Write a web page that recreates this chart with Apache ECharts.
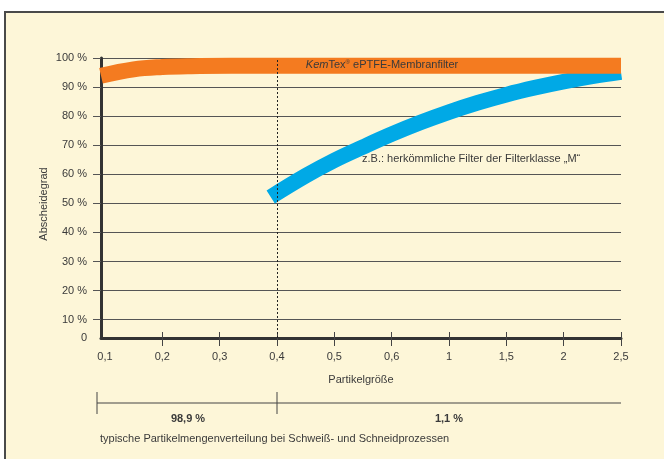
<!DOCTYPE html>
<html>
<head>
<meta charset="utf-8">
<script src="https://cdn.jsdelivr.net/npm/echarts@6/dist/echarts.min.js"></script>
<style>
  body { margin: 0; background: #fff; overflow: hidden; }
  #frame { position: absolute; left: 4px; top: 11px; width: 700px; height: 500px; background: #FDF6D8; border: 2px solid #4a4a4a; }
  #main { position: absolute; left: 0; top: 0; width: 664px; height: 459px; }
</style>
</head>
<body>
<div id="frame"></div>
<div id="main"></div>
<script type="text/javascript">
    // Achse: Partikelgrößen stehen in gleichen Abständen (Position 0..9)
    var xLabels = ['0,1', '0,2', '0,3', '0,4', '0,5', '0,6', '1', '1,5', '2', '2,5'];
    var yTicks = [10, 20, 30, 40, 50, 60, 70, 80, 90, 100];
    var yMin = 3.7;   // unterste Linie liegt etwas enger als die übrigen
    var xMin = -0.07;

    // KemTex-Band (Mittellinie)
    var kemX = [-0.07, 0.5, 1, 1.5, 2.2, 9];
    var kemY = [93.9, 96.1, 96.9, 97.2, 97.3, 97.3];

    // herkömmlicher Filter Klasse M (Mittellinie, läuft rechts unter das KemTex-Band)
    var filterX = [2.89, 3.5, 4, 4.5, 5, 5.5, 6, 6.5, 7, 7.5, 8, 8.5, 9];
    var filterY = [52.2, 59.5, 64.8, 69.4, 73.8, 77.8, 81.4, 84.6, 87.4, 89.8, 91.9, 93.7, 95.2];

    var splitAt = 3; // 0,4
    var shares = ['98,9 %', '1,1 %'];

    var font = "'Liberation Sans', Arial, sans-serif";
    var txt = '#3a3a3a';

    var myChart = echarts.init(document.getElementById('main'));

    function pairs(xs, ys) {
        return xs.map(function (x, i) { return [x, ys[i]]; });
    }
    var tickPos = [];
    var labelPos = [];
    for (var i = 0; i < xLabels.length; i++) {
        labelPos.push(i);
        if (i > 0) tickPos.push(i);
    }

    var option = {
        animation: false,
        backgroundColor: 'transparent',
        grid: { left: 101, top: 58, width: 520, height: 280 },
        xAxis: [{
            type: 'value',
            min: xMin,
            max: xLabels.length - 1,
            position: 'bottom',
            axisLine: { onZero: false, lineStyle: { color: '#333', width: 3 } },
            axisTick: { customValues: tickPos, length: 8, lineStyle: { color: '#444', width: 1 } },
            axisLabel: {
                customValues: labelPos,
                formatter: function (v) { return xLabels[Math.round(v)]; },
                margin: 13, color: txt, fontSize: 11, fontFamily: font
            },
            splitLine: { show: false },
            name: 'Partikelgröße',
            nameLocation: 'middle',
            nameGap: 36,
            nameTextStyle: { color: txt, fontSize: 11, fontFamily: font }
        }, {
            type: 'value',
            min: xMin,
            max: xLabels.length - 1,
            position: 'top',
            offset: -280,
            axisLine: { show: false },
            axisTick: { customValues: tickPos, length: 6, lineStyle: { color: '#444', width: 1 } },
            axisLabel: { show: false },
            splitLine: { show: false }
        }],
        yAxis: {
            type: 'value',
            min: yMin,
            max: 100,
            axisLine: { show: true, onZero: false, lineStyle: { color: '#333', width: 3 } },
            axisTick: { show: true, customValues: yTicks, length: 8, lineStyle: { color: '#555', width: 1 } },
            axisLabel: {
                customValues: [yMin].concat(yTicks),
                formatter: function (v) { return v < 10 ? '0' : v + ' %'; },
                margin: 14, color: txt, fontSize: 11, fontFamily: font
            },
            splitLine: { show: true, lineStyle: { color: '#555', width: 1 } }
        },
        series: [{
            name: 'Filterklasse M',
            type: 'line',
            data: pairs(filterX, filterY),
            smooth: 0.4,
            symbol: 'none',
            z: 2,
            lineStyle: { color: '#00A9E6', width: 15.5, cap: 'butt' }
        }, {
            name: 'KemTex',
            type: 'line',
            data: pairs(kemX, kemY),
            smooth: 0.4,
            symbol: 'none',
            z: 3,
            lineStyle: { color: '#F47B20', width: 16, cap: 'butt' },
            markLine: {
                silent: true,
                symbol: 'none',
                label: { show: false },
                lineStyle: { type: [2, 2], color: '#222', width: 1 },
                data: [{ xAxis: splitAt }]
            }
        }]
    };
    myChart.setOption(option);

    // Beschriftungen und Verteilungsklammer unter der Achse
    var px = function (x) { return myChart.convertToPixel({ xAxisIndex: 0 }, x); };
    var xl = px(xMin) - 4, xm = px(splitAt), xr = px(xLabels.length - 1);
    var by = 403;
    var line = { stroke: '#444', lineWidth: 1 };
    myChart.setOption({
        graphic: [
            { type: 'line', shape: { x1: xl, y1: by, x2: xr, y2: by }, style: line },
            { type: 'line', shape: { x1: xl, y1: by - 11, x2: xl, y2: by + 11 }, style: line },
            { type: 'line', shape: { x1: xm, y1: by - 11, x2: xm, y2: by + 11 }, style: line },
            { type: 'text', x: (xl + xm) / 2 + 1, y: 419, style: { text: shares[0], fill: txt, font: 'bold 11px ' + font, align: 'center', verticalAlign: 'middle' } },
            { type: 'text', x: (xm + xr) / 2, y: 419, style: { text: shares[1], fill: txt, font: 'bold 11px ' + font, align: 'center', verticalAlign: 'middle' } },
            { type: 'text', x: 100, y: 439, style: { text: 'typische Partikelmengenverteilung bei Schweiß- und Schneidprozessen', fill: txt, font: '11px ' + font, align: 'left', verticalAlign: 'middle' } },
            { type: 'text', x: 44, y: 204, rotation: Math.PI / 2, style: { text: 'Abscheidegrad', fill: txt, font: '11px ' + font, align: 'center', verticalAlign: 'middle' } },
            {
                type: 'text', x: 382, y: 65, z: 10,
                style: {
                    text: '{i|Kem}Tex{s|®} ePTFE-Membranfilter',
                    fill: txt, font: '11px ' + font, align: 'center', verticalAlign: 'middle',
                    rich: { i: { fontStyle: 'italic', fontSize: 11, fontFamily: font }, s: { fontSize: 6, verticalAlign: 'top', fontFamily: font } }
                }
            },
            { type: 'text', x: 362, y: 159, style: { text: 'z.B.: herkömmliche Filter der Filterklasse „M“', fill: txt, font: '11px ' + font, align: 'left', verticalAlign: 'middle' } }
        ]
    });
</script>
</body>
</html>
